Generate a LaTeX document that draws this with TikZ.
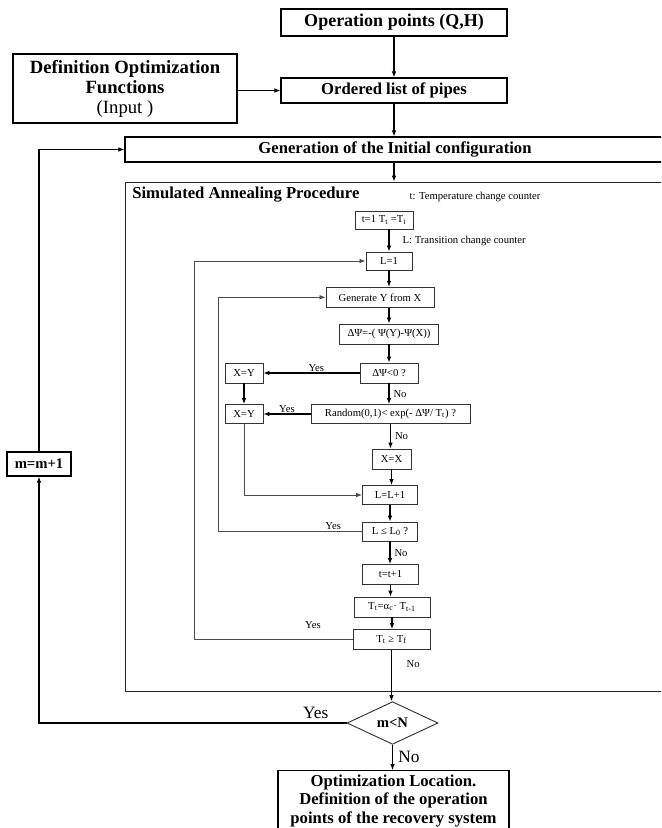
\documentclass[tikz,border=0pt]{standalone}
\usepackage{fontspec}
\setmainfont{Liberation Serif}
\usetikzlibrary{arrows.meta}
\usetikzlibrary{positioning}
\usetikzlibrary{shapes.geometric}

\begin{document}
\begin{tikzpicture}[
    x=0.75pt, y=-0.75pt,
    bigbox/.style={rectangle, draw, line width=0.9pt, align=center, inner sep=1pt, font=\fontsize{12.5}{14}\selectfont\bfseries},
    smallbox/.style={rectangle, draw=black!80, line width=0.7pt, inner sep=1pt, font=\fontsize{8}{9.6}\selectfont},
    decision/.style={diamond, draw=black!80, line width=0.7pt, inner sep=0pt, font=\fontsize{11}{13}\selectfont\bfseries},
    arrow/.style={-{Latex[length=4.5pt, width=3.5pt]}, line width=0.8pt},
    loopback/.style={-{Latex[length=4.5pt, width=3.5pt]}, draw=black!70, line width=0.6pt},
    note/.style={font=\fontsize{8}{9.6}\selectfont, inner sep=1pt},
    bignote/.style={font=\fontsize{13}{15}\selectfont, inner sep=1pt}
    ]

    \useasboundingbox (0,0) rectangle (661,828);
    \clip (0,0) rectangle (661,828);

    % Nodes
    \node[bigbox, minimum width=169.5pt, minimum height=20.25pt, font=\fontsize{13.5}{15}\selectfont\bfseries] (op) at (394,22.5) {Operation points (Q,H)};
    \node[bigbox, minimum width=169.5pt, minimum height=18.75pt] (pipes) at (394,90.5) {Ordered list of pipes};
    \node[bigbox, minimum width=168pt, minimum height=51.75pt, font=\fontsize{14}{15}\selectfont] (def) at (125,88.5) {\textbf{Definition Optimization}\\\textbf{Functions}\\(Input )};
    \node[bigbox, minimum width=405pt, minimum height=18.75pt] (gen) at (395,149.5) {Generation of the Initial configuration};

    % Simulated annealing frame
    \node[rectangle, draw=black!85, line width=0.7pt, minimum width=405pt, minimum height=381.75pt] (sa) at (395,436.5) {};
    \node[anchor=west, inner sep=0pt, font=\fontsize{12.5}{15}\selectfont\bfseries] (satitle) at (132,195) {Simulated Annealing Procedure};
    \node[note, anchor=west] (tnote) at (408,197) {t: Temperature change counter};
    \node[note, anchor=west] (Lnote) at (401,241) {L: Transition change counter};

    \node[smallbox, minimum width=43.5pt, minimum height=13.5pt] (t1) at (384,220) {t=1 T\textsubscript{t} =T\textsubscript{i}};
    \node[smallbox, minimum width=34.5pt, minimum height=13.5pt] (L1) at (389,261) {L=1};
    \node[smallbox, minimum width=81pt, minimum height=15pt] (geny) at (380,297.3) {Generate Y from X};
    \node[smallbox, minimum width=74.25pt, minimum height=15pt] (dpsi) at (389,334) {ΔΨ=-( Ψ(Y)-Ψ(X))};
    \node[smallbox, minimum width=43.5pt, minimum height=15pt] (dneg) at (389,373) {ΔΨ<0 ?};
    \node[smallbox, minimum width=28.5pt, minimum height=15pt] (xy1) at (244,373) {X=Y};
    \node[smallbox, minimum width=119.25pt, minimum height=14.25pt] (rnd) at (390.5,414) {Random(0,1)< exp(- ΔΨ/ T\textsubscript{t}) ?};
    \node[smallbox, minimum width=28.5pt, minimum height=14.25pt] (xy2) at (244,414) {X=Y};
    \node[smallbox, minimum width=29.25pt, minimum height=15pt] (xx) at (391.5,459) {X=X};
    \node[smallbox, minimum width=41.25pt, minimum height=14.25pt] (Lp1) at (390,495) {L=L+1};
    \node[smallbox, minimum width=41.25pt, minimum height=14.25pt] (Lle) at (390,531.5) {L ≤ L\textsubscript{0} ?};
    \node[smallbox, minimum width=42pt, minimum height=15pt] (tp1) at (390.5,574.5) {t=t+1};
    \node[smallbox, minimum width=57pt, minimum height=15pt] (Tt) at (392,607) {T\textsubscript{t}=α\textsubscript{c}· T\textsubscript{t-1}};
    \node[smallbox, minimum width=57.75pt, minimum height=15pt] (Tge) at (391.5,639.5) {T\textsubscript{t} ≥ T\textsubscript{f}};

    \coordinate (inner) at (218,0);
    \coordinate (outer) at (194,0);

    % Outer loop
    \node[decision, minimum width=68.25pt, minimum height=32pt] (mN) at (392.5,723) {m<N};
    \node[bigbox, anchor=north, minimum width=173.25pt, inner sep=3pt, font=\fontsize{12.5}{13.9}\selectfont\bfseries] (loc) at (393.5,770) {Optimization Location.\\Definition of the operation\\points of the recovery system};
    \node[bigbox, minimum width=48pt, minimum height=18pt, font=\fontsize{11}{13}\selectfont\bfseries] (mm) at (39,464) {m=m+1};

    \draw[arrow] (op) -- (pipes);
    \draw[arrow] (def.east |- pipes.west) -- (pipes.west);
    \draw[arrow] (pipes.south) -- (pipes.south |- gen.north);
    \draw[arrow] (gen.south -| pipes) -- (sa.north -| pipes);

    \draw[arrow] (t1.south -| L1) -- (L1.north);
    \draw[arrow] (L1.south) -- (L1.south |- geny.north);
    \draw[arrow] (geny.south -| dpsi) -- (dpsi.north);
    \draw[arrow] (dpsi) -- (dneg);
    \draw[arrow] (dneg.west) -- (xy1.east) node[note, pos=0.45, above] {Yes};
    \draw[arrow] (dneg.south) -- (dneg.south |- rnd.north) node[note, midway, right=2pt] {No};
    \draw[arrow] (xy1) -- (xy2);
    \draw[arrow] (rnd.west) -- (xy2.east) node[note, midway, above] {Yes};
    \draw[arrow] (rnd.south) -- (rnd.south |- xx.north) node[note, midway, right=2pt] {No};
    \draw[arrow] (xx.south) -- (xx.south |- Lp1.north);
    \draw[loopback] (xy2.south) |- (Lp1.west);
    \draw[arrow] (Lp1) -- (Lle);
    \draw[loopback] (Lle.west) -- node[note, pos=0.2, above] {Yes} (Lle.west -| inner) |- (geny.west);
    \draw[arrow] (Lle.south) -- (Lle.south |- tp1.north) node[note, midway, right=2pt] {No};
    \draw[arrow] (tp1.south) -- (tp1.south |- Tt.north);
    \draw[arrow] (Tt.south) -- (Tt.south |- Tge.north);
    \draw[loopback] (Tge.west) -- node[note, pos=0.25, above=7pt] {Yes} (Tge.west -| outer) |- (L1.west);
    \draw[arrow] (Tge.south) -- (Tge.south |- mN.north) node[note, pos=0.28, right=10pt] {No};

    \draw[arrow] (mN.west) -- node[bignote, pos=0.1, above=2pt] {Yes} (mN.west -| mm) -- (mm.south);
    \draw[arrow] (mm.north) |- (gen.west);
    \draw[arrow] (mN.south) -- (mN.south |- loc.north) node[bignote, midway, right=3pt] {No};

\end{tikzpicture}
\end{document}
